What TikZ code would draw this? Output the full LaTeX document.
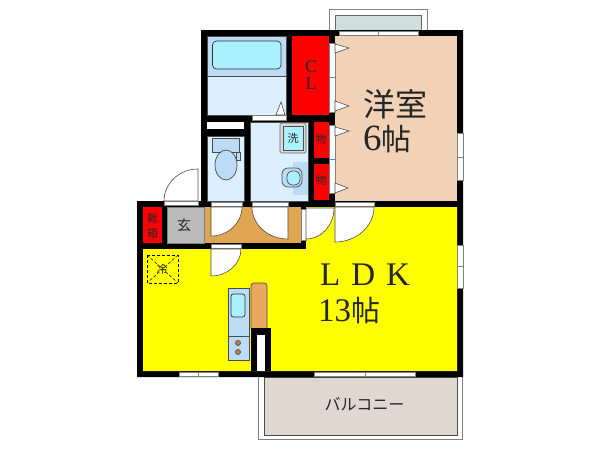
\documentclass[tikz,border=0pt]{standalone}
\usepackage{fontspec}
\setmainfont{Liberation Serif}
\newfontfamily\jpfont{Noto Sans CJK JP}
\definecolor{bathwall}{HTML}{DCEFFF}
\definecolor{bathtop}{HTML}{BCDCF5}
\definecolor{tubblue}{HTML}{AAF0FF}
\definecolor{roomtan}{HTML}{F2D2B6}
\definecolor{entryorange}{HTML}{DFA550}
\definecolor{counterorange}{HTML}{E8A860}
\definecolor{balconytan}{HTML}{E0D8D0}
\definecolor{glassgrey}{HTML}{D0DEDC}
\definecolor{floorYellow}{HTML}{FFFF00}
\definecolor{closetRed}{HTML}{FF0000}
\tikzset{
	fitting/.style={draw=black!70!white, line width=0.7pt},
	doorleaf/.style={draw=black!70!white, fill=white, line width=0.6pt},
	sash/.style={draw=black!50!white, fill=white, line width=0.8pt},
	label/.style={font=\jpfont, inner sep=0pt, text=black!85!white}
}

\begin{document}
\begin{tikzpicture}[x=1pt, y=-1pt]
	\useasboundingbox (0,0) rectangle (600,450);

	%balconies
	\draw[black!50!white, line width=0.7pt] (329,30) -- (329,9) -- (427,9) -- (427,30);
	\filldraw[fill=glassgrey, draw=black!60!white, line width=0.7pt] (335,30) -- (335,15) -- (421,15) -- (421,30);
	\draw[black!50!white, line width=0.7pt] (258,377) -- (258,439) -- (462,439) -- (462,377);
	\filldraw[fill=balconytan, draw=black!70!white, line width=0.7pt] (264,377) rectangle (457,435);

	%walls
	\fill[black] (201,30) -- (463,30) -- (463,377) -- (137,377) -- (137,201) -- (201,201) -- cycle;

	%rooms
	\filldraw[fill=bathwall, fitting] (207,36) rectangle (286,115);
	\filldraw[fill=bathtop, fitting] (207,36) rectangle (286,76);
	\filldraw[fill=tubblue, draw=black!80!white, line width=0.7pt, rounded corners=4pt] (212.5,41) rectangle (281,69);
	\fill[closetRed] (292,36) rectangle (329,115);
	\fill[roomtan] (335,36) rectangle (457,201);
	\fill[white] (207,122) rectangle (244,129);
	\filldraw[fill=bathwall, fitting] (207,136) rectangle (244,201);
	\filldraw[fill=bathwall, fitting] (250,122) rectangle (308,201);
	\fill[closetRed] (314,122) rectangle (329,158);
	\fill[closetRed] (314,164) rectangle (329,200);
	\fill[floorYellow] (143,249) -- (306,249) -- (306,207) -- (457,207) -- (457,371) -- (143,371) -- cycle;
	\fill[closetRed] (143,207) rectangle (162,243);
	\filldraw[fill=black!27!white, draw=black!50!white, line width=0.5pt] (167,207) rectangle (204,243);
	\fill[entryorange] (205,207) rectangle (301,243);

	%window sashes
	\filldraw[sash] (252,115.5) rectangle (286,120.5);
	\filldraw[sash] (329,43) rectangle (335,77);
	\filldraw[sash] (329,77) rectangle (335,112);
	\filldraw[sash] (329,125) rectangle (335,159);
	\filldraw[sash] (329,159) rectangle (335,193);
	\filldraw[sash] (339,31) rectangle (378,35);
	\filldraw[sash] (378,31) rectangle (418,35);
	\filldraw[sash] (457,133) rectangle (463,157);
	\filldraw[sash] (457,157) rectangle (463,180);
	\filldraw[sash] (457,245) rectangle (463,266);
	\filldraw[sash] (457,266) rectangle (463,288);
	\filldraw[sash] (179,372) rectangle (198,376);
	\filldraw[sash] (198,372) rectangle (218,376);
	\filldraw[sash] (314,372) rectangle (365,376);
	\filldraw[sash] (365,372) rectangle (415,376);
	\filldraw[sash] (301,209) rectangle (306,240);

	%door openings
	\filldraw[sash] (164,201.5) rectangle (198,205.5);
	\filldraw[sash] (211,202) rectangle (242,206);
	\filldraw[sash] (252,202) rectangle (288,206);
	\filldraw[sash] (335,202) rectangle (374,206);
	\filldraw[sash] (211,244) rectangle (241,248);

	%door leaves
	\filldraw[doorleaf] (198,201) -- (198,169) .. controls (179.2,169) and (164,183.3) .. (164,201) -- cycle;
	\filldraw[doorleaf] (211,207) -- (211,236) .. controls (228.1,236) and (242,223) .. (242,207) -- cycle;
	\filldraw[doorleaf] (288,207) -- (288,239) .. controls (268.1,239) and (252,224.7) .. (252,207) -- cycle;
	\filldraw[doorleaf] (306,208) -- (306,239) .. controls (321.5,239) and (334,225.1) .. (334,208) -- cycle;
	\filldraw[doorleaf] (335,207) -- (335,242) .. controls (356.5,242) and (374,226.3) .. (374,207) -- cycle;
	\filldraw[doorleaf] (211,249) -- (211,276) .. controls (227.6,276) and (241,263.9) .. (241,249) -- cycle;

	%door marks
	\filldraw[doorleaf] (335,44) -- (349,48) -- (335,53) -- cycle;
	\filldraw[doorleaf] (335,101) -- (349,106) -- (335,111) -- cycle;
	\filldraw[doorleaf] (335,127) -- (349,131) -- (335,136) -- cycle;
	\filldraw[doorleaf] (335,183) -- (348,188) -- (335,193) -- cycle;
	\filldraw[doorleaf] (276,115) -- (281,102) -- (285,115) -- cycle;

	%toilet
	\filldraw[fill=bathtop, fitting] (212,138) rectangle (239,152);
	\filldraw[fill=bathtop, fitting] (236,152) rectangle (240,160);
	\filldraw[fill=bathtop, fitting] (226,165) ellipse (11 and 15);

	%washer and basin
	\filldraw[fill=black!15!white, draw=black!60!white, line width=0.7pt, rounded corners=1.5pt] (280,123) rectangle (306,153);
	\filldraw[fill=tubblue, fitting] (283,126) rectangle (303,150);
	\fill[bathtop] (293,162) -- (308,162) -- (308,195) -- (293,195) -- cycle;
	\filldraw[fill=bathtop, fitting, rounded corners=6pt] (282,168) rectangle (302,187);
	\filldraw[fill=tubblue, fitting, rounded corners=5pt] (287,171) rectangle (300,185);

	%kitchen
	\filldraw[fill=bathtop, fitting] (228,288) rectangle (249,360);
	\draw[fitting] (228,336) -- (249,336);
	\filldraw[fill=tubblue, draw=black!80!white, line width=0.7pt, rounded corners=2.5pt] (231,294) rectangle (245,317);
	\filldraw[fill=brown, fitting] (238,343) circle (2.5);
	\filldraw[fill=brown, fitting] (238,352) circle (2.5);
	\filldraw[fill=counterorange, fitting, rounded corners=3pt] (251,329) -- (251,283) -- (267,283) -- (267,329);
	\fill[black] (251,328) rectangle (271,371);
	\fill[white] (257,335) rectangle (265,371);

	%cooker hood
	\draw[black, densely dashed, line width=0.8pt] (147,255) rectangle (178,283);
	\draw[black, densely dashed, line width=0.5pt] (147,255) -- (178,283);
	\draw[black, densely dashed, line width=0.5pt] (178,255) -- (147,283);

	%labels
	\node[label, font=\jpfont\fontsize{32}{32}\selectfont] (western) at (395,104) {洋室};
	\node[label, anchor=west] (westernsize) at (363,139) {\fontsize{37}{37}\rmfamily 6\jpfont\fontsize{30}{30}\selectfont 帖};
	\node[label, anchor=west, font=\rmfamily\fontsize{33}{33}\selectfont] (ldk) at (320,275) {L\hspace{11pt}D\hspace{11pt}K};
	\node[label, anchor=west] (ldksize) at (318,310) {\fontsize{33}{33}\rmfamily 13\jpfont\fontsize{29}{29}\selectfont 帖};
	\node[label, font=\rmfamily\fontsize{18}{18}\selectfont] (clc) at (311,67) {C};
	\node[label, font=\rmfamily\fontsize{18}{18}\selectfont] (cll) at (311,84) {L};
	\node[label, font=\jpfont\fontsize{11}{11}\selectfont] (storeup) at (321,139) {物};
	\node[label, font=\jpfont\fontsize{11}{11}\selectfont] (storedown) at (321,180) {物};
	\node[label, font=\jpfont\fontsize{11}{11}\selectfont] (shoeup) at (152.5,218) {靴};
	\node[label, font=\jpfont\fontsize{11}{11}\selectfont] (shoedown) at (152.5,233) {箱};
	\node[label, font=\jpfont\fontsize{14}{14}\selectfont] (entry) at (184,225) {玄};
	\node[label, font=\jpfont\fontsize{11}{11}\selectfont] (washer) at (293,138) {洗};
	\node[label, font=\jpfont\fontsize{11}{11}\selectfont] (fridge) at (162,269) {冷};
	\node[label, font=\jpfont\fontsize{16}{16}\selectfont] (balcony) at (364.5,404) {バルコニー};

\end{tikzpicture}
\end{document}
